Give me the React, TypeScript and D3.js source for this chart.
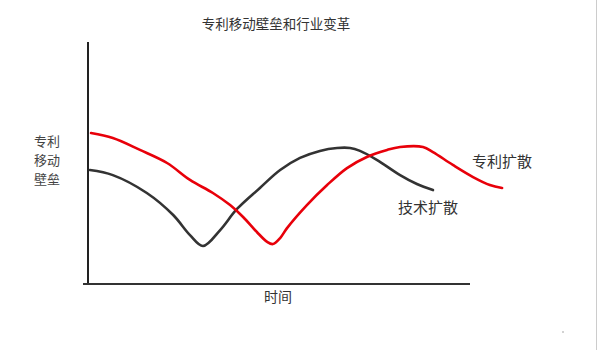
import React from "react";
import * as d3 from "d3";

const techT = [0.5, 6.5, 15.4, 22.3, 26.7, 30.1, 34.6, 39.0, 45.0, 50.3, 55.5, 60.7, 65.2, 68.6, 71.2, 75.7, 81.7, 86.1, 90.3];
const techV = [47.1, 45.0, 37.6, 28.5, 20.2, 15.7, 22.3, 31.0, 39.7, 47.1, 52.1, 55.0, 56.2, 56.2, 55.0, 51.2, 45.0, 41.3, 38.8];
const patentT = [0.8, 6.5, 13.6, 20.7, 26.7, 32.7, 37.2, 40.6, 44.2, 46.9, 48.4, 50.3, 52.1, 57.3, 62.6, 67.8, 73.0, 78.3, 81.7, 87.7, 90.3, 95.5, 100.8, 105.2, 108.4];
const patentV = [62.4, 60.3, 55.4, 50.0, 43.0, 37.6, 32.6, 27.7, 21.5, 17.4, 16.5, 19.0, 23.1, 32.6, 40.9, 47.9, 52.5, 55.4, 56.6, 56.6, 54.5, 49.2, 44.2, 40.9, 39.7];

const title = "专利移动壁垒和行业变革";
const yLabelLines = ["专利", "移动", "壁垒"];
const xLabel = "时间";
const techLabel = "技术扩散";
const patentLabel = "专利扩散";

export default function App() {
  const W = 598, H = 350;
  const x = d3.scaleLinear().domain([0, 100]).range([88, 470]);
  const y = d3.scaleLinear().domain([0, 100]).range([284, 42]);
  const line = d3
    .line<[number, number]>()
    .x((d) => x(d[0]))
    .y((d) => y(d[1]))
    .curve(d3.curveCatmullRom.alpha(0.5));
  const tech = techT.map((t, i) => [t, techV[i]] as [number, number]);
  const patent = patentT.map((t, i) => [t, patentV[i]] as [number, number]);
  const font = "'Noto Sans CJK SC', 'Noto Sans', sans-serif";
  return (
    <svg
      width={W}
      height={H}
      style={{ position: "absolute", left: 0, top: 0, background: "#fff" }}
      fontFamily={font}
    >
      <rect x={0} y={0} width={W} height={H} fill="#fff" />
      <line x1={596.5} y1={0} x2={596.5} y2={H} stroke="#ccc" strokeWidth={1} />
      <text x={276} y={29} textAnchor="middle" fontSize={13.5} fill="#333">
        {title}
      </text>
      {yLabelLines.map((s, i) => (
        <text key={i} x={47} y={146 + i * 19} textAnchor="middle" fontSize={13} fill="#444">
          {s}
        </text>
      ))}
      <line x1={x(0)} y1={y(100)} x2={x(0)} y2={y(0) + 1} stroke="#222" strokeWidth={2} />
      <line x1={x(0) - 5} y1={y(0)} x2={x(100)} y2={y(0)} stroke="#333" strokeWidth={2} />
      <text x={278} y={302} textAnchor="middle" fontSize={14} fill="#333">
        {xLabel}
      </text>
      <path d={line(tech) || ""} fill="none" stroke="#333" strokeWidth={2.6} strokeLinecap="round" strokeLinejoin="round" />
      <path d={line(patent) || ""} fill="none" stroke="#e8000a" strokeWidth={2.6} strokeLinecap="round" strokeLinejoin="round" />
      <text x={472} y={167} fontSize={15} fill="#333">
        {patentLabel}
      </text>
      <text x={398} y={213} fontSize={15} fill="#333">
        {techLabel}
      </text>
      <circle cx={563} cy={332} r={0.8} fill="#999" />
    </svg>
  );
}
